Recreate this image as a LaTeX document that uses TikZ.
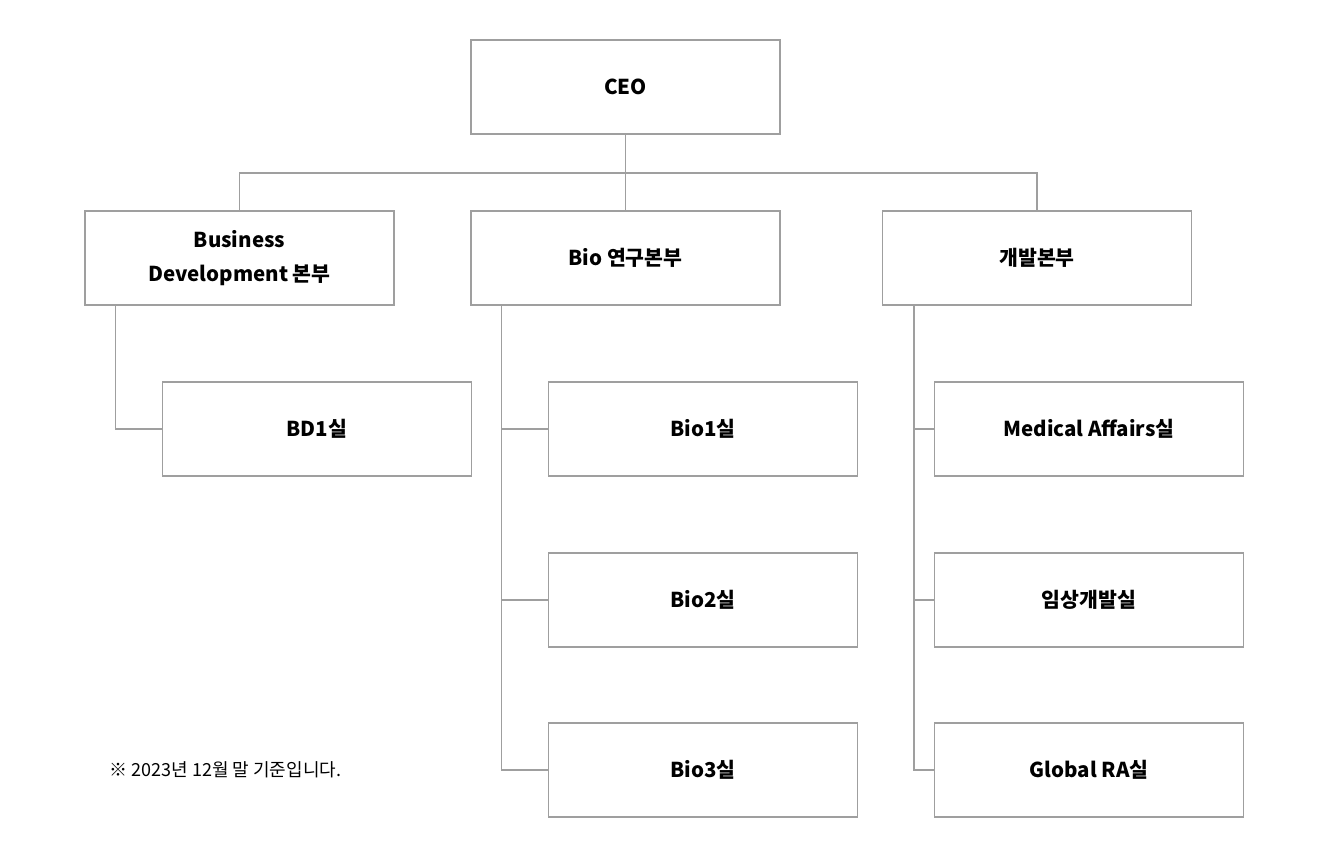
\documentclass[tikz,border=0pt]{standalone}
\usepackage{fontspec}
\setmainfont{Noto Sans CJK KR}
\usetikzlibrary{positioning}

\begin{document}
\begin{tikzpicture}[x=1pt, y=-1pt, semithick]
                \tikzset{box/.style={draw=gray!75, line width=1.1pt, minimum width=309pt, minimum height=94pt, align=center, font=\fontsize{20.5}{34}\selectfont\bfseries},
                         link/.style={draw=gray!75, line width=1.1pt}}
                \useasboundingbox (0,0) rectangle (1320,866);
                \node[box]    (CEO)   at (625.5,87)   {CEO};
                \node[box]    (BD)    at (239.5,258)  {Business\\Development 본부};
                \node[box]    (BIO)   at (625.5,258)  {Bio 연구본부};
                \node[box]    (DEV)   at (1037,258)   {개발본부};
                \node[box]    (BD1)   at (317,429)    {BD1실};
                \node[box]    (BIO1)  at (703,429)    {Bio1실};
                \node[box]    (BIO2)  at (703,600)    {Bio2실};
                \node[box]    (BIO3)  at (703,770)    {Bio3실};
                \node[box]    (MA)    at (1089,429)   {Medical Affairs실};
                \node[box]    (CL)    at (1089,600)   {임상개발실};
                \node[box]    (RA)    at (1089,770)   {Global RA실};
                \node[anchor=west, font=\fontsize{18}{20}\selectfont] (NOTE) at (106,770) {※ 2023년 12월 말 기준입니다.};

                % top level
                \coordinate (bus) at (625.5,173);
                \path[link] (CEO.south) -- (bus);
                \path[link] (BD.north) |- (bus) -| (DEV.north);
                \path[link] (bus) -- (BIO.north);

                % sub units
                \path[link] (BD.south west) ++(31,0) |- (BD1.west);
                \path[link] (BIO.south west) ++(31,0) |- (BIO1.west);
                \path[link] (BIO.south west) ++(31,0) |- (BIO2.west);
                \path[link] (BIO.south west) ++(31,0) |- (BIO3.west);
                \path[link] (DEV.south west) ++(32,0) |- (MA.west);
                \path[link] (DEV.south west) ++(32,0) |- (CL.west);
                \path[link] (DEV.south west) ++(32,0) |- (RA.west);
\end{tikzpicture}
\end{document}
